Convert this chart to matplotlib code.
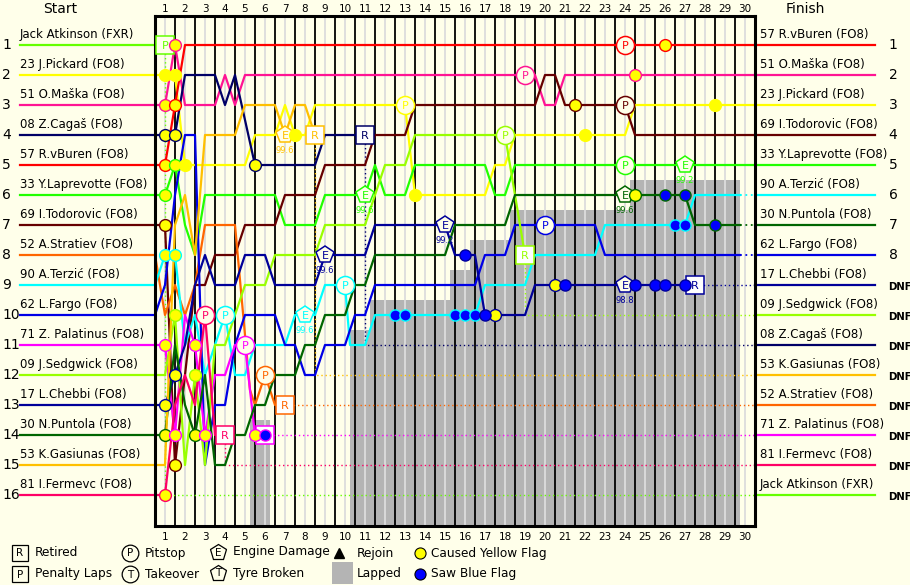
import matplotlib
matplotlib.use('Agg')
import matplotlib.pyplot as plt

BG = '#FFFFEA'

# (lap, position) points, half-lap resolution
atkinson = [(0, 1), (0.5, 1)]
pickard = [(0, 2), (0.5, 2), (1, 2), (1.5, 5), (4.5, 5), (5, 4), (6, 4), (6.5, 3), (7, 4), (7.5, 4), (8, 3),
           (12.5, 3), (13, 6), (16.5, 6), (17, 5), (17.5, 5), (18, 4), (23.5, 4), (24, 3), (30, 3)]
maska = [(0, 3), (0.5, 3), (1, 1), (1.5, 3), (3, 3), (3.5, 2), (4, 3), (4.5, 2), (19, 2), (19.5, 3), (20, 3),
         (20.5, 2), (30, 2)]
cagas = [(0, 4), (0.5, 4), (1, 4), (1.5, 2), (3, 2), (3.5, 3), (4, 2), (5, 5), (8, 5), (8.5, 4), (10.5, 4)]
vburen = [(0, 5), (0.5, 5), (1, 3), (1.5, 1), (30, 1)]
laprevotte = [(0, 6), (0.5, 6), (1, 5), (1.5, 7), (2, 8), (2.5, 6), (6, 6), (6.5, 7), (8, 7), (8.5, 6), (10.5, 6),
              (11, 5), (11.5, 6), (12.5, 6), (13, 5), (16.5, 5), (17, 6), (17.5, 6), (18, 5), (30, 5)]
todorovic = [(0, 7), (0.5, 7), (1, 15), (1.5, 12), (2, 9), (2.5, 9), (3, 8), (4, 8), (4.5, 7), (6, 7), (6.5, 6),
             (8, 6), (8.5, 5), (10.5, 5), (11, 4), (12.5, 4), (13, 3), (19, 3), (19.5, 2), (20, 2), (20.5, 3),
             (23.5, 3), (24, 4), (30, 4)]
stratiev = [(0, 8), (0.5, 10), (1, 9), (1.5, 10), (2, 9), (2.5, 7), (4, 7), (4.75, 12.5), (5, 13), (5.5, 12),
            (6, 13), (6.5, 13)]
terzic = [(0, 9), (0.5, 8), (1, 8), (1.5, 11), (2, 10), (2.5, 12), (3, 11), (3.5, 10), (4, 12), (4.5, 12), (5, 11),
          (6.5, 11), (7, 10), (8, 10), (8.5, 9), (9.5, 9), (9.75, 11), (10.5, 11), (11, 10), (16, 10), (16.5, 9),
          (18.5, 9), (19, 8), (22, 8), (22.5, 7), (26.5, 7), (27, 6), (29.25, 6)]
fargo = [(0, 10), (0.5, 9), (1, 6), (1.5, 4), (2, 4), (2.5, 15), (3, 13), (3.5, 13), (4, 11), (4.5, 10), (6, 10),
         (6.5, 11), (7, 11), (7.5, 12), (8, 12), (8.5, 11), (9.5, 11), (10, 10), (10.5, 10), (11, 9), (16, 9),
         (16.5, 8), (17.5, 8), (18, 7), (22, 7), (22.5, 8), (29.25, 8)]
palatinus = [(0, 11), (0.5, 11), (1, 14), (1.5, 10), (2, 11), (2.5, 14), (3, 12), (3.5, 12), (4, 11), (4.5, 11),
             (5, 14), (5.5, 14)]
sedgwick = [(0, 12), (0.5, 12), (1, 10), (1.5, 15), (2, 12), (2.5, 15), (3, 11), (3.5, 11), (4, 10), (4.5, 9),
            (5.5, 9), (6, 8), (8, 8), (8.5, 7), (10.5, 7), (11, 6), (11.5, 5), (12.5, 5), (13, 4), (17.5, 4),
            (18.5, 8)]
chebbi = [(0, 13), (0.5, 13), (1, 12), (1.5, 11), (2, 9), (2.5, 8), (3, 9), (4, 9), (4.5, 8), (5.5, 8), (6, 9),
          (8, 9), (8.5, 8), (10.5, 8), (11, 7), (14.5, 7), (15, 8), (16, 8), (16.5, 10), (18.5, 10), (19, 9),
          (27, 9)]
puntola = [(0, 14), (0.5, 14), (1, 11), (1.5, 13), (2, 14), (2.5, 12), (3, 15), (3.5, 15), (4, 14), (4.5, 14),
           (5, 13), (5.5, 13), (6, 12), (7, 12), (7.5, 11), (8, 11), (8.5, 10), (9.5, 10), (10, 9), (10.5, 9),
           (11, 8), (14.5, 8), (15, 7), (17.5, 7), (18, 6), (26.5, 6), (27, 7), (29.25, 7)]
gasiunas = [(0, 15), (0.5, 15), (1, 7), (1.5, 6), (2, 8), (2.5, 4), (4, 4), (4.5, 3), (6, 3), (6.5, 4), (7, 3),
            (7.5, 3), (8, 4)]
fermevc = [(0, 16), (0.5, 16), (1, 13), (1.5, 12), (2, 13), (2.5, 10), (3, 14), (3.5, 14)]

# grid order
names = ['atkinson', 'pickard', 'maska', 'cagas', 'vburen', 'laprevotte', 'todorovic', 'stratiev',
         'terzic', 'fargo', 'palatinus', 'sedgwick', 'chebbi', 'puntola', 'gasiunas', 'fermevc']
labels = ['Jack Atkinson (FXR)', '23 J.Pickard (FO8)', '51 O.Maška (FO8)', '08 Z.Cagaš (FO8)',
          '57 R.vBuren (FO8)', '33 Y.Laprevotte (FO8)', '69 I.Todorovic (FO8)', '52 A.Stratiev (FO8)',
          '90 A.Terzić (FO8)', '62 L.Fargo (FO8)', '71 Z. Palatinus (FO8)', '09 J.Sedgwick (FO8)',
          '17 L.Chebbi (FO8)', '30 N.Puntola (FO8)', '53 K.Gasiunas (FO8)', '81 I.Fermevc (FO8)']
colors = ['#66FF00', '#FFFF00', '#FF1493', '#000066', '#FF0000', '#22FF00', '#660000', '#FF6600',
          '#00FFFF', '#0000E6', '#FF00FF', '#99FF00', '#000099', '#006600', '#FFC000', '#FF0066']
finish_order = ['vburen', 'maska', 'pickard', 'todorovic', 'laprevotte', 'terzic', 'puntola', 'fargo',
                'chebbi', 'sedgwick', 'cagas', 'gasiunas', 'stratiev', 'palatinus', 'fermevc', 'atkinson']
classified = 8

yellow_flags = [('pickard', 0.5, 2), ('maska', 0.5, 3), ('cagas', 0.5, 4), ('vburen', 0.5, 5),
                ('laprevotte', 0.5, 6), ('todorovic', 0.5, 7), ('terzic', 0.5, 8), ('palatinus', 0.5, 11),
                ('chebbi', 0.5, 13), ('puntola', 0.5, 14), ('fermevc', 0.5, 16),
                ('maska', 1, 1), ('pickard', 1, 2), ('vburen', 1, 3), ('cagas', 1, 4), ('laprevotte', 1, 5),
                ('terzic', 1, 8), ('sedgwick', 1, 10), ('chebbi', 1, 12), ('palatinus', 1, 14),
                ('todorovic', 1, 15), ('pickard', 1.5, 5), ('sedgwick', 2, 12), ('palatinus', 2, 11),
                ('puntola', 2, 14), ('palatinus', 2.5, 14), ('cagas', 5, 5), ('palatinus', 5, 14),
                ('pickard', 7, 4), ('pickard', 13, 6), ('chebbi', 17, 10), ('chebbi', 20, 9),
                ('todorovic', 21, 3), ('pickard', 21.5, 4), ('maska', 24, 2), ('puntola', 24, 6),
                ('vburen', 25.5, 1), ('pickard', 28, 3)]
blue_flags = [('terzic', 12, 10), ('terzic', 12.5, 10), ('terzic', 15, 10), ('terzic', 15.5, 10),
              ('terzic', 16, 10), ('chebbi', 15.5, 8), ('chebbi', 16.5, 10), ('chebbi', 20.5, 9),
              ('chebbi', 24, 9), ('chebbi', 25, 9), ('chebbi', 25.5, 9), ('chebbi', 26.5, 9),
              ('puntola', 25.5, 6), ('puntola', 26.5, 6), ('puntola', 28, 7), ('terzic', 26, 7),
              ('terzic', 26.5, 7), ('palatinus', 5.5, 14)]
pitstops = [('fermevc', 2.5, 10), ('terzic', 3.5, 10), ('palatinus', 4.5, 11), ('stratiev', 5.5, 12),
            ('terzic', 9.5, 9), ('pickard', 12.5, 3), ('sedgwick', 17.5, 4), ('maska', 18.5, 2),
            ('fargo', 19.5, 7), ('vburen', 23.5, 1), ('todorovic', 23.5, 3), ('laprevotte', 23.5, 5)]
retired = [('fermevc', 3.5, 14), ('palatinus', 5.5, 14), ('stratiev', 6.5, 13), ('gasiunas', 8, 4),
           ('cagas', 10.5, 4), ('sedgwick', 18.5, 8), ('chebbi', 27, 9)]
penalty = [('atkinson', 0.5, 1)]
engine = [('gasiunas', 6.5, 4, '99.6'), ('terzic', 7.5, 10, '99.6'), ('chebbi', 8.5, 8, '99.6'),
          ('laprevotte', 10.5, 6, '99.6'), ('chebbi', 14.5, 7, '99.2'), ('puntola', 23.5, 6, '99.6'),
          ('chebbi', 23.5, 9, '98.8'), ('laprevotte', 26.5, 5, '99.2')]
lapped = [(4.75, 5.75, 13.5), (9.75, 10.75, 10.5), (10.75, 14.75, 9.5), (14.75, 15.75, 8.5),
          (15.75, 17.75, 7.5), (17.75, 23.75, 6.5), (23.75, 29.25, 5.5)]
n_laps = 30

traces = {n: globals()[n] for n in names}
col = dict(zip(names, colors))
finish_row = {n: i + 1 for i, n in enumerate(finish_order)}

fig = plt.figure(figsize=(9.1, 5.85), dpi=100, facecolor=BG)
ax = fig.add_axes([155 / 910, 1 - 526 / 585, 600 / 910, 510 / 585])
ax.set_facecolor(BG)
ax.set_xlim(0, n_laps)
ax.set_ylim(17.033, 0.033)
ax.set_xticks([])
ax.set_yticks([])
for s in ax.spines.values():
    s.set_linewidth(2.2)
    s.set_zorder(20)

for t0, t1, top in lapped:
    ax.fill_between([t0, t1], top, 17.1, color='#B4B4B4', lw=0, zorder=1)
for k in range(n_laps):
    ax.axvline(k + 0.5, color='#DCDCDC', lw=1.3, zorder=2)
    if k > 0:
        ax.axvline(k, color='black', lw=1.3, zorder=2)
    ax.text(k + 0.5, -0.2, str(k + 1), ha='center', va='center', fontsize=7.5, clip_on=False)
    ax.text(k + 0.5, 17.4, str(k + 1), ha='center', va='center', fontsize=7.5, clip_on=False)

# start side
for i, n in enumerate(names):
    p = i + 1
    ax.plot([-6.75, 0], [p, p], color=col[n], lw=1.6, clip_on=False, zorder=4)
    ax.text(-6.75, p - 0.13, labels[i], fontsize=8.5, ha='left', va='bottom', clip_on=False)
    ax.text(-7.65, p, str(p), fontsize=10, ha='left', va='center', clip_on=False)
ax.text(-4.75, -0.2, 'Start', fontsize=10, ha='center', va='center', clip_on=False)

# finish side
for n in finish_order:
    p = finish_row[n]
    ax.plot([n_laps, 36], [p, p], color=col[n], lw=1.6, clip_on=False, zorder=4)
    ax.text(30.25, p - 0.13, labels[names.index(n)], fontsize=8.5, ha='left', va='bottom', clip_on=False)
    if p <= classified:
        ax.text(36.9, p, str(p), fontsize=10, ha='center', va='center', clip_on=False)
    else:
        ax.text(36.65, p + 0.05, 'DNF', fontsize=7.3, fontweight='bold', ha='left', va='center',
                clip_on=False)
ax.text(32.5, -0.2, 'Finish', fontsize=10, ha='center', va='center', clip_on=False)

# race lines
dots = (0, (1, 2))
for n in names:
    tr = traces[n]
    ts = [a for a, b in tr]
    ps = [b for a, b in tr]
    ax.plot(ts, ps, color=col[n], lw=1.6, zorder=4)
    p_end = finish_row[n]
    if p_end > classified:
        ax.plot([ts[-1], ts[-1], n_laps], [ps[-1], p_end, p_end], color=col[n], lw=1, ls=dots, zorder=3)
    elif ts[-1] < n_laps:
        ax.plot([ts[-1], n_laps], [ps[-1], ps[-1]], color=col[n], lw=1.3, ls=dots, zorder=3)

z = [6]


def badge(t, p, c, marker, letter, face=BG):
    z[0] += 1
    ax.plot(t, p, marker, ms=13, mfc=face, mec=c, mew=1.1, zorder=z[0])
    ax.text(t, p + 0.03, letter, color=c, fontsize=8, ha='center', va='center', zorder=z[0])


for n, t, p in pitstops:
    badge(t, p, col[n], 'o', 'P')
for n, t, p, v in engine:
    badge(t, p, col[n], 'p', 'E')
    ax.text(t, p + 0.5, v, color=col[n], fontsize=6, ha='center', va='center', zorder=z[0])
for n, t, p in retired:
    badge(t, p, col[n], 's', 'R', face='white')
for n, t, p in penalty:
    badge(t, p, col[n], 's', 'P')
for n, t, p in yellow_flags:
    ax.plot(t, p, 'o', ms=8.5, mfc='#FFFF00', mec=col[n], mew=1, zorder=40)
for n, t, p in blue_flags:
    ax.plot(t, p, 'o', ms=8, mfc='#0000FF', mec=col[n], mew=1, zorder=40)

# legend
lg = fig.add_axes([0, 0, 1, 1])
lg.set_xlim(0, 910)
lg.set_ylim(585, 0)
lg.axis('off')
lg.patch.set_alpha(0)
items = [(20, 553, 's', 'R', 'Retired'), (130, 553, 'o', 'P', 'Pitstop'), (218, 552, 'p', 'E', 'Engine Damage'),
         (20, 574, 's', 'P', 'Penalty Laps'), (130, 574, 'o', 'T', 'Takeover'), (218, 573, 'p', 'T', 'Tyre Broken')]
for x, y, m, letter, txt in items:
    lg.plot(x, y, m, ms=12, mfc=BG, mec='black', mew=0.9)
    lg.text(x, y + 0.5, letter, fontsize=7.5, ha='center', va='center')
    lg.text(x + 15, y, txt, fontsize=8.7, ha='left', va='center')
lg.plot(339, 553, '^', ms=7, color='black')
lg.text(357, 553, 'Rejoin', fontsize=8.7, ha='left', va='center')
lg.fill_between([332, 353], 562, 584, color='#B4B4B4', lw=0)
lg.text(357, 574, 'Lapped', fontsize=8.7, ha='left', va='center')
lg.plot(420, 553, 'o', ms=8, mfc='#FFFF00', mec='black', mew=0.8)
lg.text(431, 553, 'Caused Yellow Flag', fontsize=8.7, ha='left', va='center')
lg.plot(420, 574, 'o', ms=8, mfc='#0000FF', mec='black', mew=0.8)
lg.text(431, 574, 'Saw Blue Flag', fontsize=8.7, ha='left', va='center')

fig.savefig('out.png', dpi=100, facecolor=BG)
